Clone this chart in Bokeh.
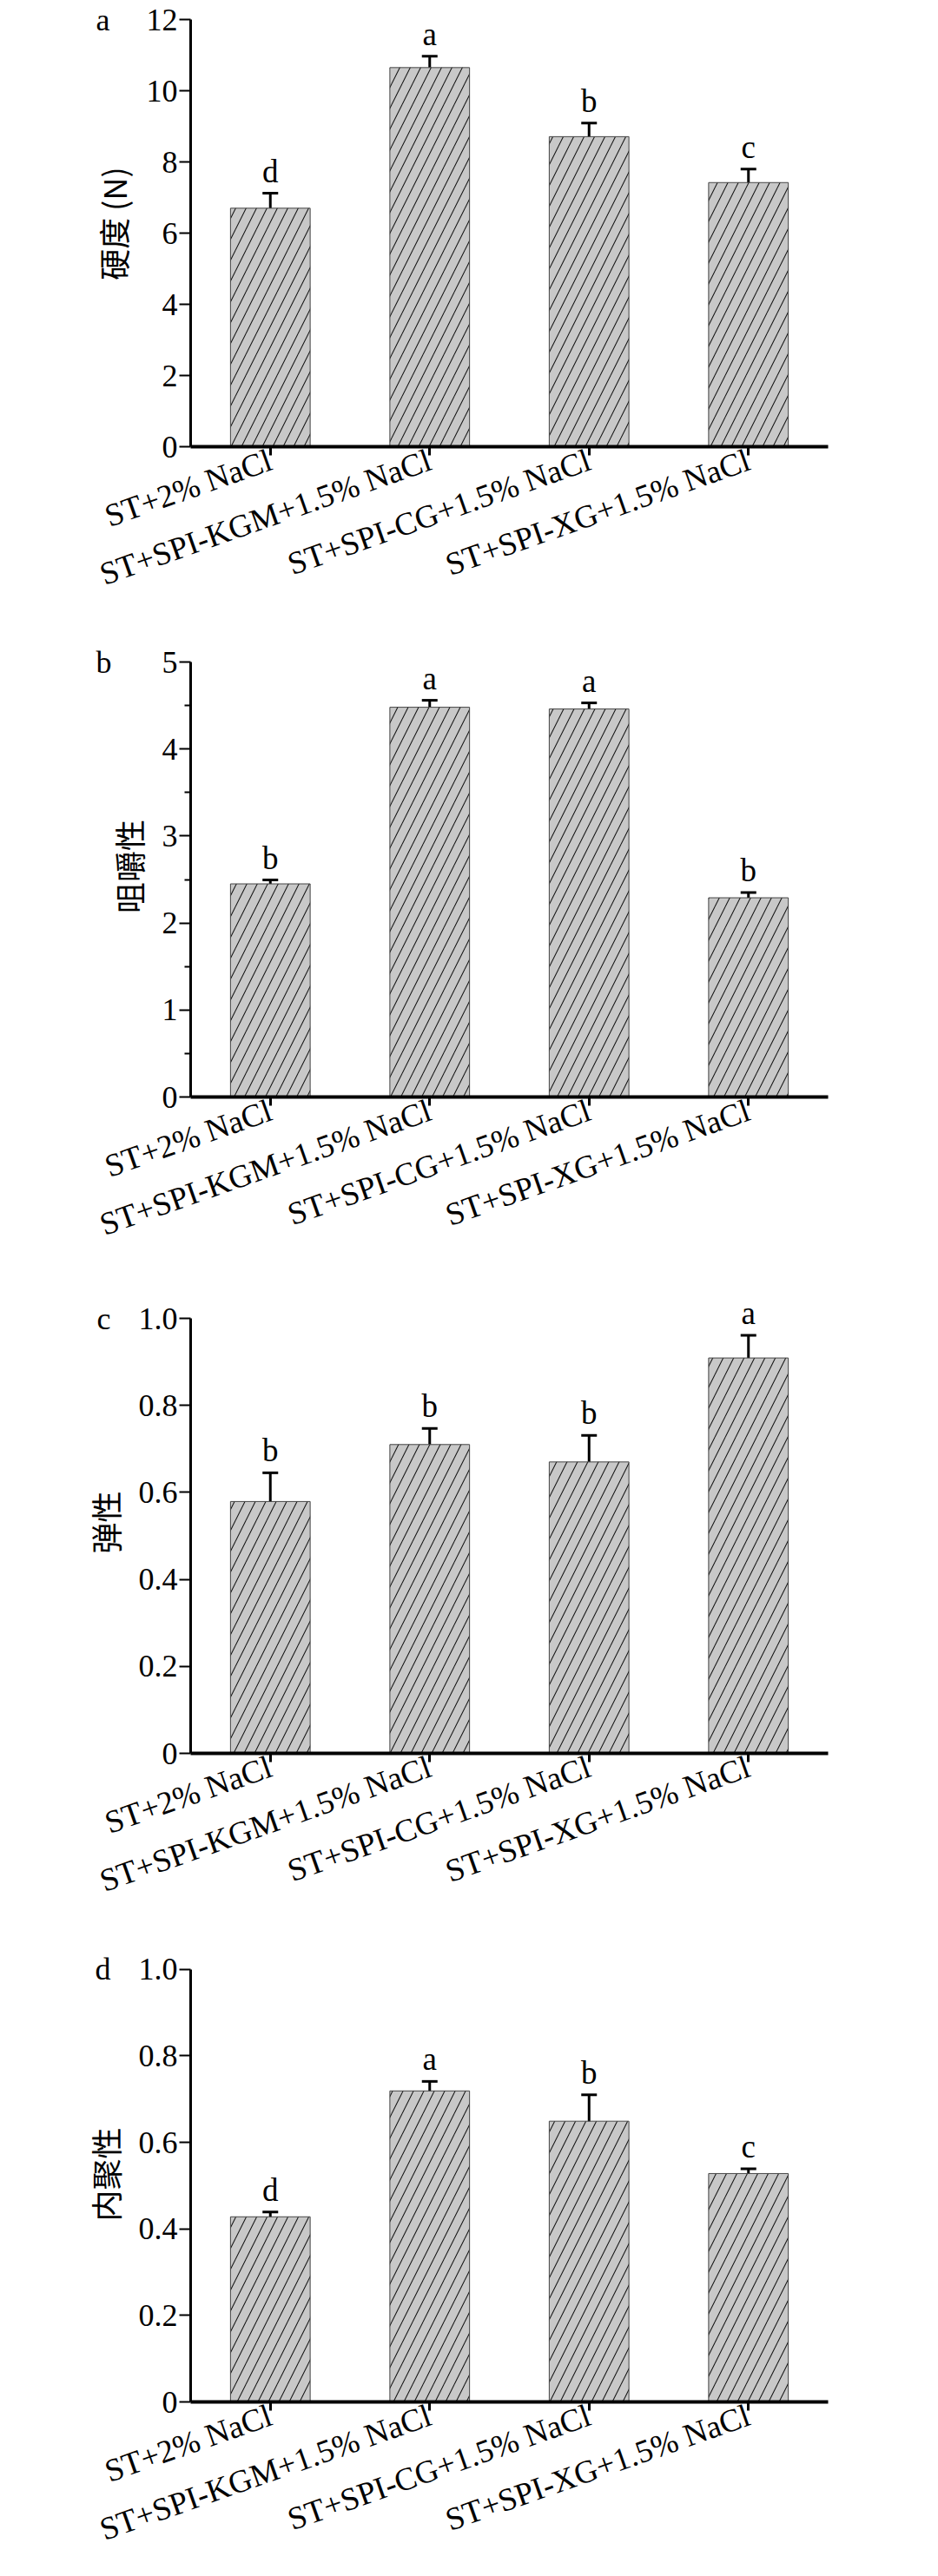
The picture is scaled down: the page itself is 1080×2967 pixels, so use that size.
from bokeh.plotting import figure
from bokeh.models import (ColumnDataSource, Whisker, TeeHead, LabelSet, LinearAxis,
                          FixedTicker, CustomJSTickFormatter, Range1d, FactorRange)
from bokeh.layouts import column
from bokeh.embed import file_html
from bokeh.resources import INLINE

categories = ["ST+2% NaCl", "ST+SPI-KGM+1.5% NaCl", "ST+SPI-CG+1.5% NaCl", "ST+SPI-XG+1.5% NaCl"]

hardness = [6.70, 10.65, 8.71, 7.42]
hardness_err = [0.42, 0.32, 0.38, 0.38]
hardness_sig = ["d", "a", "b", "c"]

chewiness = [2.45, 4.48, 4.46, 2.29]
chewiness_err = [0.045, 0.08, 0.07, 0.06]
chewiness_sig = ["b", "a", "a", "b"]

springiness = [0.579, 0.710, 0.670, 0.909]
springiness_err = [0.066, 0.037, 0.061, 0.052]
springiness_sig = ["b", "b", "b", "a"]

cohesiveness = [0.428, 0.719, 0.649, 0.528]
cohesiveness_err = [0.011, 0.022, 0.061, 0.011]
cohesiveness_sig = ["d", "a", "b", "c"]

hardness_ticks = [0, 2, 4, 6, 8, 10, 12]
chewiness_ticks = [0, 1, 2, 3, 4, 5]
chewiness_minor = [0.5, 1.5, 2.5, 3.5, 4.5]
ratio_ticks = [0, 0.2, 0.4, 0.6, 0.8, 1.0]

SERIF = "Liberation Serif"
CJK = "Noto Sans CJK SC"
FIG_W = 1064


def panel(vals, errs, sig, ymax, ticks, minor, ylabel, letter, decimals,
          fig_top, fig_bottom, top_tick, zero_y, frame_right, letter_standoff):
    # frame starts at the figure top; axis line limited to [0, ymax]
    ymax_range = ymax * (zero_y - fig_top) / (zero_y - top_tick)
    p = figure(x_range=FactorRange(*categories, range_padding=0),
               y_range=Range1d(0, ymax_range),
               width=FIG_W, height=fig_bottom - fig_top, output_backend="svg",
               toolbar_location=None, title=None,
               min_border_left=219, min_border_right=8 + FIG_W - frame_right,
               min_border_top=0, min_border_bottom=fig_bottom - zero_y)
    p.background_fill_color = "white"
    p.border_fill_color = "white"
    p.outline_line_color = None
    p.xgrid.visible = False
    p.ygrid.visible = False

    src = ColumnDataSource(dict(
        x=categories, top=vals,
        upper=[v + e for v, e in zip(vals, errs)],
        lower=[v - e for v, e in zip(vals, errs)],
        sig=sig))

    p.vbar(x="x", top="top", width=0.5, source=src,
           fill_color="#c8c8c8", line_color="#444444", line_width=1,
           hatch_pattern="/", hatch_color="#1a1a1a", hatch_weight=1.1,
           hatch_scale=24)

    w = Whisker(base="x", upper="upper", lower="lower", source=src,
                line_color="black", line_width=3,
                upper_head=TeeHead(size=18, line_width=3, line_color="black"),
                lower_head=TeeHead(size=18, line_width=3, line_color="black"))
    p.add_layout(w)

    labels = LabelSet(x="x", y="upper", text="sig", source=src,
                      text_align="center", text_baseline="alphabetic",
                      y_offset=13, text_font=SERIF, text_font_size="37px",
                      text_color="black")
    p.add_layout(labels)

    xa = p.xaxis[0]
    xa.axis_line_width = 4
    xa.axis_line_color = "black"
    xa.major_tick_line_width = 3
    xa.major_tick_line_color = "black"
    xa.major_tick_out = 10
    xa.major_tick_in = 0
    xa.minor_tick_line_color = None
    xa.major_label_orientation = 0.34
    xa.major_label_standoff = 4
    xa.major_label_text_font = SERIF
    xa.major_label_text_font_size = "37px"
    xa.major_label_text_color = "black"

    ya = p.yaxis[0]
    ya.bounds = (0, ymax)
    ya.ticker = FixedTicker(ticks=ticks, minor_ticks=minor)
    ya.formatter = CustomJSTickFormatter(
        code="return tick == 0 ? '0' : tick.toFixed(%d);" % decimals)
    ya.axis_line_width = 3
    ya.axis_line_color = "black"
    ya.major_tick_line_width = 2
    ya.major_tick_line_color = "black"
    ya.major_tick_out = 13
    ya.major_tick_in = 0
    if minor:
        ya.minor_tick_line_width = 2
        ya.minor_tick_line_color = "black"
        ya.minor_tick_out = 7
        ya.minor_tick_in = 0
    else:
        ya.minor_tick_line_color = None
    ya.major_label_standoff = 2
    ya.major_label_text_font = SERIF
    ya.major_label_text_font_size = "36px"
    ya.major_label_text_color = "black"
    ya.axis_label = ylabel
    ya.axis_label_text_font = CJK
    ya.axis_label_text_font_size = "36px"
    ya.axis_label_text_font_style = "normal"
    ya.axis_label_text_color = "black"
    ya.axis_label_standoff = 10

    # panel letter, shown as the only label of an outer left axis at the top tick
    la = LinearAxis(ticker=FixedTicker(ticks=[ymax], minor_ticks=[]),
                    formatter=CustomJSTickFormatter(code="return '%s';" % letter),
                    axis_line_color=None, major_tick_line_color=None,
                    minor_tick_line_color=None, major_tick_out=0, major_tick_in=0,
                    major_label_standoff=letter_standoff,
                    major_label_text_font=SERIF,
                    major_label_text_font_size="36px",
                    major_label_text_color="black")
    p.add_layout(la, "left")
    return p


pa = panel(hardness, hardness_err, hardness_sig, 12, hardness_ticks, [],
           "硬度 (N)", "a", 0, 8, 740, 30, 522, 973, -26)
pb = panel(chewiness, chewiness_err, chewiness_sig, 5, chewiness_ticks, chewiness_minor,
           "咀嚼性", "b", 0, 740, 1495, 770, 1271, 978, -10)
pc = panel(springiness, springiness_err, springiness_sig, 1.0, ratio_ticks, [],
           "弹性", "c", 1, 1495, 2250, 1526, 2027, 961, -36)
pd = panel(cohesiveness, cohesiveness_err, cohesiveness_sig, 1.0, ratio_ticks, [],
           "内聚性", "d", 1, 2250, 2964, 2276, 2778, 969, -36)

layout = column(pa, pb, pc, pd, spacing=0)
open("out.html", "w").write(file_html(layout, INLINE))
